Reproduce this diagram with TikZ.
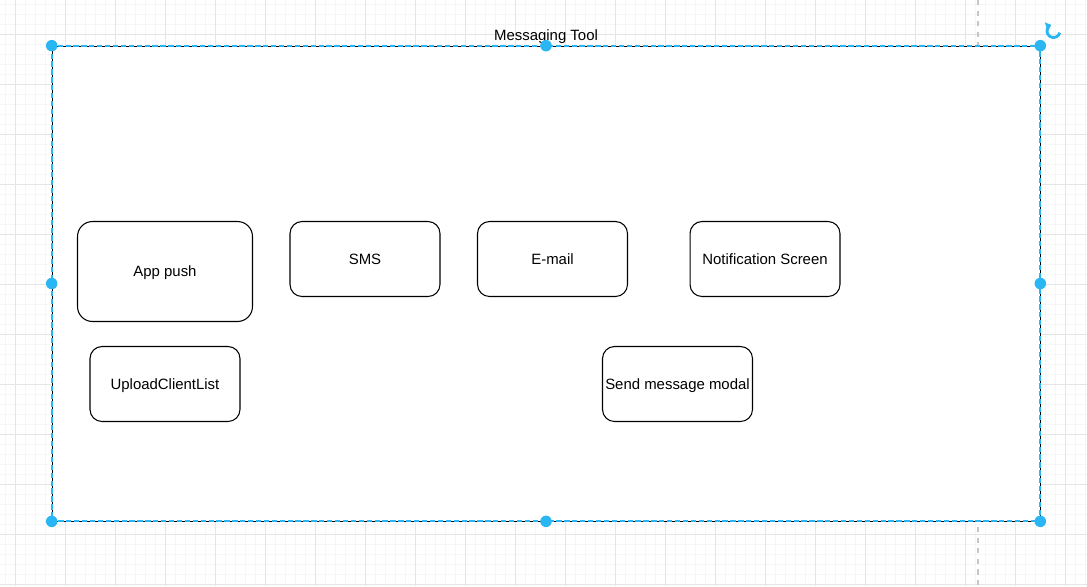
\documentclass[tikz,border=0pt]{standalone}
\usepackage{fontspec}
\setmainfont{Liberation Sans}
\usepackage{xcolor}
\usepackage{tikz}
\usetikzlibrary{positioning, arrows.meta}
\definecolor{selblue}{RGB}{41,182,242}

\begin{document}
\begin{tikzpicture}[x=0.02cm, y=-0.02cm,
    screen/.style={rectangle, draw=black, line width=0.6pt, fill=white, rounded corners=0.24cm, minimum width=3cm, minimum height=1.5cm, align=center, inner sep=1pt, text height=6.2pt, text depth=0pt, font=\fontsize{8.5}{10}\selectfont},
    handle/.style={circle, fill=selblue, inner sep=0pt, minimum size=0.23cm},
    minorline/.style={draw=gray!7, line width=0.4pt},
    majorline/.style={draw=gray!20, line width=0.5pt}
]
    \useasboundingbox (0,0) rectangle (1087,586);

    % Canvas grid
    \foreach \gx in {5,15,...,1085} \draw[minorline] (\gx,0) -- (\gx,586);
    \foreach \gy in {4,14,...,584} \draw[minorline] (0,\gy) -- (1087,\gy);
    \foreach \gx in {15,65,...,1065} \draw[majorline] (\gx,0) -- (\gx,586);
    \foreach \gy in {34,84,...,584} \draw[majorline] (0,\gy) -- (1087,\gy);
    \draw[gray!45, dashed, line width=0.6pt] (978,0) -- (978,586);

    % Container (selected)
    \node[draw=black, fill=white, line width=0.45pt, inner sep=0pt, minimum width=19.76cm, minimum height=9.5cm] (tool) at (546,283.5) {};
    \draw[selblue, line width=1pt, dash pattern=on 3pt off 1.5pt] (tool.north west) rectangle (tool.south east);
    \node[font=\fontsize{8.5}{10}\selectfont, inner sep=0pt, text height=6.2pt, text depth=0pt] (title) at (546,35) {Messaging Tool};

    % Screens
    \node[screen, minimum width=3.5cm, minimum height=2cm, rounded corners=0.3cm] (apppush) at (165,271.5) {App push};
    \node[screen] (sms) at (365,259) {SMS};
    \node[screen] (email) at (552.5,259) {E-mail};
    \node[screen] (notif) at (765,259) {Notification Screen};
    \node[screen] (upload) at (165,384) {UploadClientList};
    \node[screen] (sendmodal) at (677.5,384) {Send message modal};

    % Selection handles
    \foreach \a/\n in {north west/nw, north/n, north east/ne, west/w, east/e, south west/sw, south/s, south east/se}
        \node[handle] (h\n) at (tool.\a) {};
    \coordinate (rot) at (1053.5,31);
    \draw[selblue, line width=1.6pt, -{Triangle[length=3pt, width=5pt]}] ([shift={(-15:0.13cm)}]rot) arc[start angle=-15, end angle=-250, radius=0.13cm];

\end{tikzpicture}
\end{document}
